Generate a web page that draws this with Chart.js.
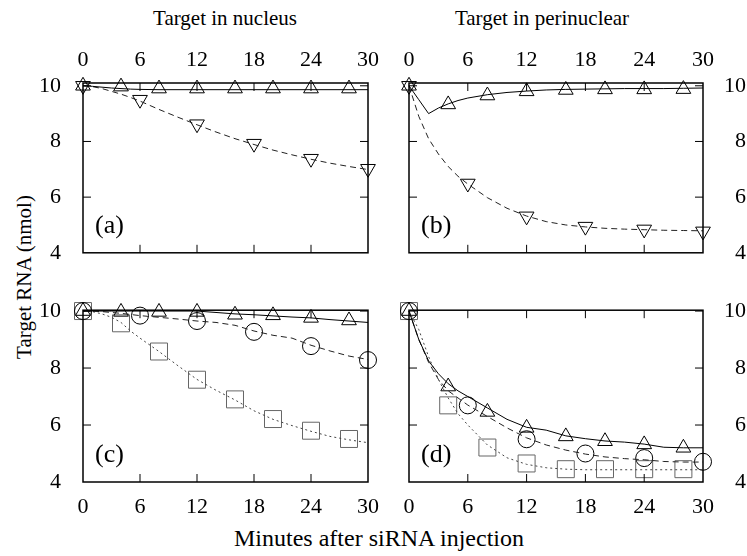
<!DOCTYPE html>
<html>
<head>
<meta charset="utf-8">
<script src="https://cdn.jsdelivr.net/npm/chart.js@4.4.0/dist/chart.umd.min.js"></script>
<style>
  body { margin: 0; background: #fff; }
  #wrap { position: relative; width: 747px; height: 556px; font-family: "Liberation Serif", serif; }
  canvas { position: absolute; }
  .lbl { position: absolute; font-size: 21px; color: #000; white-space: nowrap; line-height: 1; transform: translate(-50%, -50%); }
</style>
</head>
<body>
<div id="wrap">
  <div class="lbl" style="left:225px;top:18px">Target in nucleus</div>
  <div class="lbl" style="left:542px;top:18px">Target in perinuclear</div>
  <div class="lbl" style="left:24px;top:277px;font-size:21px;transform:translate(-50%,-50%) rotate(-90deg)">Target RNA (nmol)</div>
  <div class="lbl" style="left:379px;top:538px;font-size:24px">Minutes after siRNA injection</div>
  <canvas id="pa" width="390" height="250" style="left:0;top:30px"></canvas>
  <canvas id="pb" width="357" height="250" style="left:390px;top:30px"></canvas>
  <canvas id="pc" width="390" height="240" style="left:0;top:283px"></canvas>
  <canvas id="pd" width="357" height="240" style="left:390px;top:283px"></canvas>
</div>
<script>
// axis ticks
const xTicks = [0, 6, 12, 18, 24, 30];
const yTicks = [4, 6, 8, 10];

// sample times (minutes)
const lineTimes = [0, 1, 2, 3, 4, 5, 6, 8, 10, 12, 14, 16, 18, 20, 22, 24, 26, 28, 30];
const fourTimes = [0, 4, 8, 12, 16, 20, 24, 28];
const sixTimes = [0, 6, 12, 18, 24, 30];

// (a) target in nucleus
const aSolid  = [10, 9.98, 9.95, 9.92, 9.9, 9.88, 9.87, 9.86, 9.86, 9.86, 9.86, 9.86, 9.86, 9.86, 9.86, 9.86, 9.86, 9.86, 9.86];
const aDashed = [10, 9.97, 9.9, 9.8, 9.7, 9.58, 9.45, 9.15, 8.87, 8.6, 8.34, 8.1, 7.89, 7.69, 7.52, 7.36, 7.22, 7.1, 6.99];
const aUp     = [10, 9.97, 9.9, 9.9, 9.9, 9.9, 9.9, 9.9];
const aDown   = [10, 9.5, 8.62, 7.92, 7.38, 7.02];

// (b) target in perinuclear
const bSolid  = [10, 9.5, 9.0, 9.2, 9.35, 9.47, 9.56, 9.68, 9.76, 9.81, 9.85, 9.87, 9.88, 9.89, 9.9, 9.9, 9.9, 9.91, 9.92];
const bDashed = [10, 8.9, 8.1, 7.55, 7.1, 6.75, 6.47, 5.98, 5.6, 5.32, 5.12, 5.0, 4.93, 4.88, 4.85, 4.83, 4.81, 4.8, 4.79];
const bUp     = [10, 9.33, 9.65, 9.8, 9.85, 9.87, 9.87, 9.88];
const bDown   = [10, 6.49, 5.31, 4.94, 4.84, 4.77];

// (c) target in nucleus, three cases
const cSolid  = [10, 10, 10, 10, 10, 10, 10, 10, 10, 10, 9.95, 9.9, 9.87, 9.83, 9.79, 9.76, 9.7, 9.65, 9.6];
const cDashed = [10, 10, 9.98, 9.95, 9.92, 9.88, 9.84, 9.78, 9.72, 9.65, 9.6, 9.5, 9.3, 9.15, 9.05, 8.8, 8.6, 8.42, 8.3];
const cDotted = [10, 9.98, 9.9, 9.78, 9.6, 9.3, 9.05, 8.58, 8.08, 7.6, 7.22, 6.88, 6.5, 6.2, 5.98, 5.78, 5.6, 5.48, 5.38];
const cUp     = [10, 9.97, 9.97, 9.97, 9.87, 9.85, 9.76, 9.67];
const cCircle = [10, 9.84, 9.65, 9.27, 8.77, 8.28];
const cSquare = [10, 9.57, 8.58, 7.59, 6.9, 6.21, 5.8, 5.51];

// (d) target in perinuclear, three cases
const dSolid  = [10, 9.0, 8.25, 7.8, 7.45, 7.2, 7.0, 6.6, 6.2, 5.92, 5.82, 5.62, 5.52, 5.44, 5.4, 5.33, 5.22, 5.2, 5.2];
const dDashed = [10, 9.0, 8.2, 7.6, 7.2, 6.95, 6.7, 6.3, 5.9, 5.55, 5.3, 5.12, 4.98, 4.88, 4.82, 4.78, 4.72, 4.7, 4.7];
const dDotted = [10, 9.35, 8.4, 7.6, 6.95, 6.4, 6.0, 5.3, 4.85, 4.62, 4.5, 4.45, 4.43, 4.43, 4.43, 4.43, 4.43, 4.43, 4.43];
const dUp     = [10, 7.35, 6.46, 5.9, 5.6, 5.43, 5.32, 5.2];
const dCircle = [10, 6.69, 5.5, 5.0, 4.84, 4.71];
const dSquare = [10, 6.69, 5.21, 4.65, 4.45, 4.45, 4.45, 4.45];

const FONT = '"Liberation Serif", serif';
const pts = (xs, ys) => xs.map((x, i) => ({ x: x, y: ys[i] }));

function curve(ys, dash, color) {
  return { data: pts(lineTimes, ys), showLine: true, pointRadius: 0, borderColor: color,
           borderWidth: 1, borderDash: dash, clip: false };
}
function marks(xs, ys, style, color, r, rot) {
  return { data: pts(xs, ys), showLine: false, pointStyle: style, pointRadius: r, pointRotation: rot || 0,
           pointBorderColor: color, pointBackgroundColor: 'rgba(0,0,0,0)', pointBorderWidth: 1, clip: false };
}

// box around plot, inward ticks and panel letter
const frame = {
  id: 'frame',
  afterDatasetsDraw(chart, args, opts) {
    const { ctx, chartArea: a } = chart;
    const x = chart.scales.x, y = chart.scales.y;
    ctx.save();
    ctx.strokeStyle = '#000';
    ctx.lineWidth = 1.5;
    ctx.strokeRect(a.left, a.top, a.right - a.left, a.bottom - a.top);
    ctx.lineWidth = 1;
    ctx.beginPath();
    xTicks.slice(1, -1).forEach(v => {
      const px = x.getPixelForValue(v);
      ctx.moveTo(px, a.top); ctx.lineTo(px, a.top + 8);
      ctx.moveTo(px, a.bottom); ctx.lineTo(px, a.bottom - 8);
    });
    yTicks.slice(1).forEach(v => {
      const py = y.getPixelForValue(v);
      ctx.moveTo(a.left, py); ctx.lineTo(a.left + 8, py);
      ctx.moveTo(a.right, py); ctx.lineTo(a.right - 8, py);
    });
    ctx.stroke();
    ctx.fillStyle = '#000';
    ctx.font = '26px ' + FONT;
    ctx.textBaseline = 'middle';
    ctx.fillText(opts.letter, a.left + 12, a.bottom - 27);
    ctx.restore();
  }
};

function panel(id, letter, sets, o) {
  new Chart(document.getElementById(id), {
    type: 'scatter',
    data: { datasets: sets },
    options: {
      responsive: false,
      animation: false,
      events: [],
      layout: { padding: o.pad },
      plugins: { legend: { display: false }, tooltip: { enabled: false }, frame: { letter: letter } },
      scales: {
        x: {
          type: 'linear', position: o.xPos, min: 0, max: 30,
          afterBuildTicks: s => { s.ticks = xTicks.map(v => ({ value: v })); },
          afterFit: s => { s.height = o.xH; },
          grid: { display: false }, border: { display: false },
          ticks: { autoSkip: false, maxRotation: 0, padding: o.xPad, color: '#000', font: { family: FONT, size: 22 } }
        },
        y: {
          type: 'linear', position: o.yPos, min: 4, max: o.yMax,
          afterBuildTicks: s => { s.ticks = yTicks.map(v => ({ value: v })); },
          afterFit: s => { s.width = o.yW; },
          grid: { display: false }, border: { display: false },
          ticks: { padding: 14, crossAlign: o.yPos === 'right' ? 'far' : 'near', color: '#000', font: { family: FONT, size: 22 } }
        }
      }
    },
    plugins: [frame]
  });
}

const BLK = '#000', DSH = '#222', DOT = '#444', SQ = '#666';

panel('pa', '(a)', [
  curve(aSolid, [], BLK),
  curve(aDashed, [6, 4], DSH),
  marks(fourTimes, aUp, 'triangle', BLK, 8.5),
  marks(sixTimes, aDown, 'triangle', BLK, 8.5, 180)
], { xPos: 'top', yPos: 'left', xH: 53, yW: 83, xPad: 2, yMax: 10.1, pad: { top: 0, left: 0, right: 22, bottom: 15 } });

panel('pb', '(b)', [
  curve(bSolid, [], BLK),
  curve(bDashed, [6, 4], DSH),
  marks(fourTimes, bUp, 'triangle', BLK, 8.5),
  marks(sixTimes, bDown, 'triangle', BLK, 8.5, 180)
], { xPos: 'top', yPos: 'right', xH: 53, yW: 43, xPad: 2, yMax: 10.1, pad: { top: 0, left: 19, right: 1, bottom: 14 } });

panel('pc', '(c)', [
  curve(cSolid, [], BLK),
  curve(cDashed, [6, 4], DSH),
  curve(cDotted, [2, 3], DOT),
  marks(fourTimes, cUp, 'triangle', BLK, 8.5),
  marks(sixTimes, cCircle, 'circle', BLK, 8.5),
  marks(fourTimes, cSquare, 'rect', SQ, 12)
], { xPos: 'bottom', yPos: 'left', xH: 41, yW: 83, xPad: 4, yMax: 10.03, pad: { top: 18, left: 0, right: 22, bottom: 0 } });

panel('pd', '(d)', [
  curve(dSolid, [], BLK),
  curve(dDashed, [6, 4], DSH),
  curve(dDotted, [2, 3], DOT),
  marks(fourTimes, dUp, 'triangle', BLK, 8.5),
  marks(sixTimes, dCircle, 'circle', BLK, 8.5),
  marks(fourTimes, dSquare, 'rect', SQ, 12)
], { xPos: 'bottom', yPos: 'right', xH: 41, yW: 43, xPad: 4, yMax: 10.03, pad: { top: 18, left: 19, right: 1, bottom: 0 } });
</script>
</body>
</html>
